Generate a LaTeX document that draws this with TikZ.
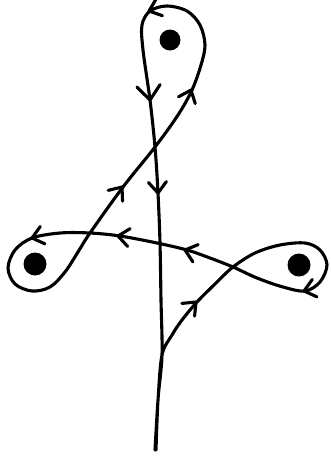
\documentclass[tikz,border=0pt]{standalone}
\begin{document}
\begin{tikzpicture}[x=1pt,y=-1pt,
  strand/.style={line width=3.1pt,line cap=round,line join=round},
  chev/.pic={\draw[strand] (-11,9) -- (0,0) -- (-11,-9);},
  puncture/.style={fill=black}]
\useasboundingbox (0,0) rectangle (331,456);
\draw[strand] plot[smooth,tension=0.55] coordinates {
 (155,450) (158,400) (162,355) (172,335) (182,320) (197,302) (215,284) (233,267)
 (255,253) (280,245) (305,243) (320,250) (327,265) (320,282) (305,291) (283,287) (257,278) (233,267)
 (210,258) (187,250) (157,243) (120,236) (90,233)
 (60,233) (32,238) (15,250) (8,268) (15,284) (32,291) (50,287) (65,272) (78,252) (90,233)
 (123,187) (155,147) (178,115) (192,90) (201,65) (205,45) (200,25) (187,11) (167,6) (150,11) (142,25) (143,50)
 (150,100) (155,147) (158,193) (160,243) (161,300) (162,355) (158,400) (156,450)};
\fill[puncture] (170,40) circle (10.5);
\fill[puncture] (299,265) circle (11.5);
\fill[puncture] (35,264) circle (11.5);
\pic[rotate=45] at (196,302) {chev};
\pic[rotate=195] at (304,291) {chev};
\pic[rotate=163] at (185,250) {chev};
\pic[rotate=172] at (118,236) {chev};
\pic[rotate=195] at (32,238) {chev};
\pic[rotate=53] at (122,187) {chev};
\pic[rotate=68] at (191,90) {chev};
\pic[rotate=200] at (149,11) {chev};
\pic[rotate=-84,scale=1.3] at (150,100) {chev};
\pic[rotate=-87] at (158,193) {chev};
\end{tikzpicture}
\end{document}
